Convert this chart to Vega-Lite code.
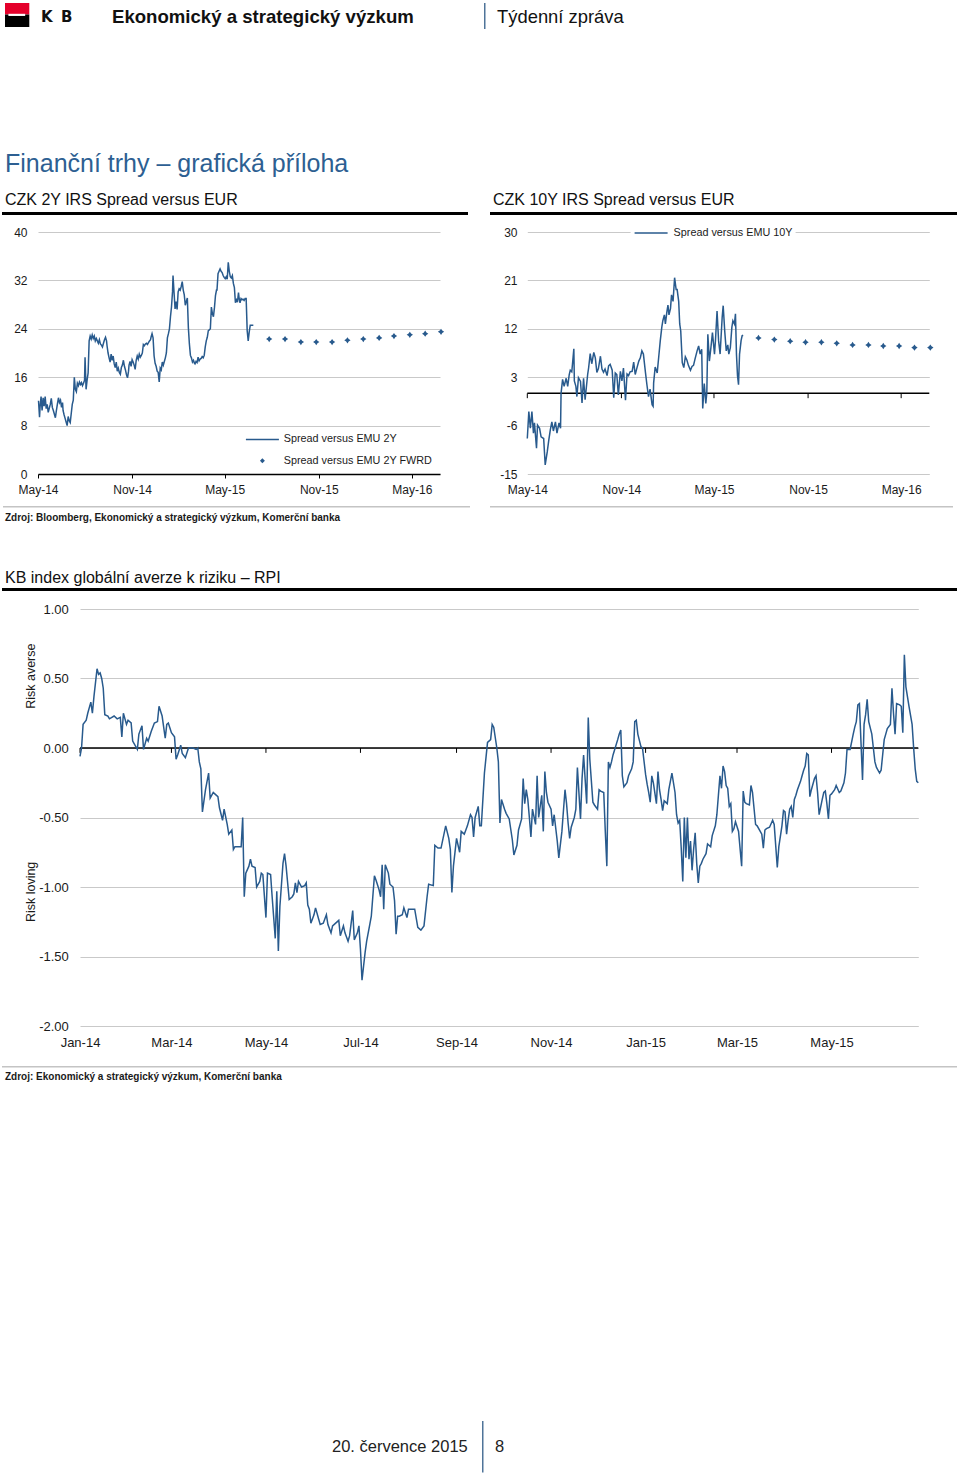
{
"$schema": "https://vega.github.io/schema/vega-lite/v6.json",
"background": "white",
"padding": 0,
"spacing": 0,
"config": {
  "font": "Liberation Sans",
  "view": {"stroke": null},
  "concat": {"spacing": 0},
  "locale": {"number": {"decimal": ".", "thousands": ",", "grouping": [3], "currency": ["$", ""], "minus": "-"}},
  "axis": {"labelColor": "#1a1a1a", "titleColor": "#1a1a1a", "gridColor": "#c9c9c9", "titleFontWeight": "normal"},
  "legend": {"labelColor": "#1a1a1a"}
},
"vconcat": [
  {"width": 1, "height": 2.5, "data": {"values": []}, "mark": "point"},
  {"spacing": 0, "hconcat": [
    {"width": 5, "height": 24, "data": {"values": []}, "mark": "point"},
    {"width": 24.3, "height": 24, "layer": [
      {"data": {"values": [{}]}, "mark": {"type": "rect", "color": "#e4002b"},
       "encoding": {"x": {"datum": 0, "type": "quantitative", "scale": {"domain": [0, 1]}, "axis": null}, "x2": {"datum": 1},
                    "y": {"datum": 0.52, "type": "quantitative", "scale": {"domain": [0, 1]}, "axis": null}, "y2": {"datum": 1}}},
      {"data": {"values": [{}]}, "mark": {"type": "rect", "color": "#000000"},
       "encoding": {"x": {"datum": 0, "type": "quantitative", "axis": null}, "x2": {"datum": 1},
                    "y": {"datum": 0, "type": "quantitative", "axis": null}, "y2": {"datum": 0.52}}},
      {"data": {"values": [{}]}, "mark": {"type": "rect", "color": "#ffffff"},
       "encoding": {"x": {"datum": 0.14, "type": "quantitative", "axis": null}, "x2": {"datum": 0.83},
                    "y": {"datum": 0.46, "type": "quantitative", "axis": null}, "y2": {"datum": 0.55}}}
    ]},
    {"width": 10.2, "height": 24, "data": {"values": []}, "mark": "point"},
    {"width": 20, "height": 27.8, "data": {"values": [{"label": "K"}]},
     "mark": {"type": "text", "align": "left", "baseline": "middle", "font": "DejaVu Sans", "fontSize": 15, "fontWeight": "bold", "color": "#111111"},
     "encoding": {"text": {"field": "label"}, "x": {"datum": 0, "type": "quantitative", "scale": {"domain": [0, 1]}, "axis": null}}},
    {"width": 50.8, "height": 27.8, "data": {"values": [{"label": "B"}]},
     "mark": {"type": "text", "align": "left", "baseline": "middle", "font": "DejaVu Sans", "fontSize": 15, "fontWeight": "bold", "color": "#111111"},
     "encoding": {"text": {"field": "label"}, "x": {"datum": 0, "type": "quantitative", "scale": {"domain": [0, 1]}, "axis": null}}},
    {"width": 372, "height": 27.8, "data": {"values": [{"label": "Ekonomický a strategický výzkum"}]},
     "mark": {"type": "text", "align": "left", "baseline": "middle", "fontSize": 18.6, "fontWeight": "bold", "color": "#111111"},
     "encoding": {"text": {"field": "label"}, "x": {"datum": 0, "type": "quantitative", "scale": {"domain": [0, 1]}, "axis": null}}},
    {"width": 1.5, "height": 26, "view": {"fill": "#4f7499", "stroke": null}, "data": {"values": []}, "mark": "point"},
    {"width": 10.5, "height": 24, "data": {"values": []}, "mark": "point"},
    {"width": 200, "height": 27.8, "data": {"values": [{"label": "Týdenní zpráva"}]},
     "mark": {"type": "text", "align": "left", "baseline": "middle", "fontSize": 18.4, "color": "#111111"},
     "encoding": {"text": {"field": "label"}, "x": {"datum": 0, "type": "quantitative", "scale": {"domain": [0, 1]}, "axis": null}}}
  ]},
  {"width": 1, "height": 118.7, "data": {"values": []}, "mark": "point"},
  {"spacing": 0, "hconcat": [
    {"width": 5, "height": 28, "data": {"values": []}, "mark": "point"},
    {"width": 600, "height": 28, "data": {"values": [{"label": "Finanční trhy – grafická příloha"}]},
     "mark": {"type": "text", "align": "left", "baseline": "middle", "fontSize": 25, "color": "#2d5f92"},
     "encoding": {"text": {"field": "label"}, "x": {"datum": 0, "type": "quantitative", "scale": {"domain": [0, 1]}, "axis": null}}}
  ]},
  {"width": 1, "height": 13, "data": {"values": []}, "mark": "point"},
  {"spacing": 0, "hconcat": [
    {"width": 5, "height": 18, "data": {"values": []}, "mark": "point"},
    {"width": 488, "height": 18, "data": {"values": [{"label": "CZK 2Y IRS Spread versus EUR"}]},
     "mark": {"type": "text", "align": "left", "baseline": "middle", "fontSize": 16, "color": "#111111"},
     "encoding": {"text": {"field": "label"}, "x": {"datum": 0, "type": "quantitative", "scale": {"domain": [0, 1]}, "axis": null}}},
    {"width": 400, "height": 18, "data": {"values": [{"label": "CZK 10Y IRS Spread versus EUR"}]},
     "mark": {"type": "text", "align": "left", "baseline": "middle", "fontSize": 16, "color": "#111111"},
     "encoding": {"text": {"field": "label"}, "x": {"datum": 0, "type": "quantitative", "scale": {"domain": [0, 1]}, "axis": null}}}
  ]},
  {"width": 1, "height": 2.5, "data": {"values": []}, "mark": "point"},
  {"spacing": 0, "hconcat": [
    {"width": 2, "height": 3, "data": {"values": []}, "mark": "point"},
    {"width": 466, "height": 3, "view": {"fill": "#000000", "stroke": null}, "data": {"values": []}, "mark": "point"},
    {"width": 22, "height": 3, "data": {"values": []}, "mark": "point"},
    {"width": 467, "height": 3, "view": {"fill": "#000000", "stroke": null}, "data": {"values": []}, "mark": "point"}
  ]},
  {"width": 1, "height": 7.4, "data": {"values": []}, "mark": "point"},
  {"spacing": 0, "hconcat": [
   {"width": 0.001, "height": 1, "data": {"values": []}, "mark": "point"},
   {"spacing": 87.3, "bounds": "flush",
   "resolve": {"scale": {"color": "independent"}, "legend": {"color": "independent"}},
   "hconcat": [
    {"width": 402, "height": 242, "layer": [
      {"data": {"values": [
{"date":"2014-122","value":12.1},{"date":"2014-124","value":9.4},{"date":"2014-125","value":11},{"date":"2014-127","value":12.8},{"date":"2014-129","value":10.5},{"date":"2014-131","value":12.6},{"date":"2014-133","value":11.2},{"date":"2014-135","value":12.8},{"date":"2014-137","value":10.8},{"date":"2014-139","value":11.5},{"date":"2014-141","value":10.2},{"date":"2014-145","value":11.5},{"date":"2014-147","value":12.5},{"date":"2014-149","value":11},{"date":"2014-151","value":10.5},{"date":"2014-155","value":9.3},{"date":"2014-157","value":10.5},{"date":"2014-159","value":11.6},{"date":"2014-161","value":12.6},{"date":"2014-163","value":11.8},{"date":"2014-165","value":12.2},{"date":"2014-167","value":11},{"date":"2014-169","value":11.8},{"date":"2014-170","value":10.5},{"date":"2014-172","value":9.8},{"date":"2014-174","value":9.2},{"date":"2014-176","value":8.6},{"date":"2014-178","value":8},{"date":"2014-180","value":9.5},{"date":"2014-182","value":8.8},{"date":"2014-184","value":8.5},{"date":"2014-186","value":10},{"date":"2014-188","value":11.5},{"date":"2014-190","value":12.2},{"date":"2014-192","value":16},{"date":"2014-194","value":14},{"date":"2014-196","value":13.6},{"date":"2014-198","value":15},{"date":"2014-200","value":14.6},{"date":"2014-202","value":15.2},{"date":"2014-204","value":14.8},{"date":"2014-206","value":15.1},{"date":"2014-208","value":14.6},{"date":"2014-210","value":15},{"date":"2014-212","value":15.5},{"date":"2014-213","value":19.3},{"date":"2014-215","value":14},{"date":"2014-217","value":15.5},{"date":"2014-219","value":16.7},{"date":"2014-221","value":22},{"date":"2014-223","value":22.8},{"date":"2014-225","value":22.3},{"date":"2014-227","value":23},{"date":"2014-229","value":22.4},{"date":"2014-231","value":22.8},{"date":"2014-233","value":22},{"date":"2014-235","value":22.4},{"date":"2014-237","value":22},{"date":"2014-239","value":21.6},{"date":"2014-241","value":22.2},{"date":"2014-243","value":21.5},{"date":"2014-245","value":21.3},{"date":"2014-247","value":21},{"date":"2014-249","value":21.6},{"date":"2014-251","value":22.2},{"date":"2014-253","value":22.6},{"date":"2014-255","value":22},{"date":"2014-256","value":21.2},{"date":"2014-258","value":20},{"date":"2014-260","value":19.2},{"date":"2014-262","value":18.5},{"date":"2014-264","value":19.8},{"date":"2014-266","value":18.8},{"date":"2014-268","value":19.5},{"date":"2014-270","value":18.2},{"date":"2014-272","value":17.6},{"date":"2014-274","value":18.5},{"date":"2014-276","value":17},{"date":"2014-278","value":17.5},{"date":"2014-280","value":16.8},{"date":"2014-282","value":16.5},{"date":"2014-284","value":17.6},{"date":"2014-286","value":18},{"date":"2014-288","value":18.8},{"date":"2014-290","value":17.8},{"date":"2014-292","value":17.2},{"date":"2014-294","value":16.4},{"date":"2014-296","value":15.9},{"date":"2014-298","value":17},{"date":"2014-299","value":18},{"date":"2014-301","value":18.6},{"date":"2014-303","value":17.8},{"date":"2014-305","value":18.9},{"date":"2014-307","value":18.5},{"date":"2014-309","value":18},{"date":"2014-311","value":17.3},{"date":"2014-313","value":18.8},{"date":"2014-315","value":19.5},{"date":"2014-317","value":19},{"date":"2014-319","value":19.8},{"date":"2014-321","value":19.3},{"date":"2014-323","value":19.6},{"date":"2014-325","value":20},{"date":"2014-327","value":21.4},{"date":"2014-329","value":21.2},{"date":"2014-331","value":21.5},{"date":"2014-333","value":21.6},{"date":"2014-335","value":21.4},{"date":"2014-337","value":21.7},{"date":"2014-339","value":22},{"date":"2014-341","value":22.2},{"date":"2014-342","value":22.6},{"date":"2014-344","value":23.2},{"date":"2014-346","value":22.5},{"date":"2014-348","value":19.5},{"date":"2014-350","value":18.3},{"date":"2014-352","value":17.8},{"date":"2014-354","value":17},{"date":"2014-356","value":16.8},{"date":"2014-358","value":15.2},{"date":"2014-360","value":17.5},{"date":"2014-362","value":17.2},{"date":"2014-364","value":18.5},
{"date":"2015-001","value":18},{"date":"2015-003","value":18.6},{"date":"2015-005","value":19.2},{"date":"2015-007","value":20},{"date":"2015-009","value":22.5},{"date":"2015-011","value":23.2},{"date":"2015-013","value":24},{"date":"2015-015","value":26},{"date":"2015-017","value":27.6},{"date":"2015-019","value":30.1},{"date":"2015-020","value":32.8},{"date":"2015-022","value":30},{"date":"2015-024","value":27.3},{"date":"2015-026","value":28.5},{"date":"2015-028","value":27.2},{"date":"2015-030","value":30.1},{"date":"2015-032","value":30.6},{"date":"2015-034","value":30.4},{"date":"2015-036","value":31},{"date":"2015-038","value":31.8},{"date":"2015-040","value":30.4},{"date":"2015-042","value":29.6},{"date":"2015-044","value":27.9},{"date":"2015-046","value":28.5},{"date":"2015-048","value":29.1},{"date":"2015-050","value":24.2},{"date":"2015-052","value":21.5},{"date":"2015-054","value":19.6},{"date":"2015-056","value":19.2},{"date":"2015-058","value":18.5},{"date":"2015-060","value":18.8},{"date":"2015-062","value":18.3},{"date":"2015-063","value":18.2},{"date":"2015-065","value":18.6},{"date":"2015-067","value":18.4},{"date":"2015-069","value":19.3},{"date":"2015-071","value":18.7},{"date":"2015-073","value":19},{"date":"2015-075","value":19.1},{"date":"2015-077","value":19.4},{"date":"2015-079","value":19.2},{"date":"2015-081","value":19.6},{"date":"2015-083","value":21},{"date":"2015-085","value":22},{"date":"2015-087","value":22.6},{"date":"2015-089","value":23.7},{"date":"2015-091","value":23.8},{"date":"2015-093","value":24},{"date":"2015-095","value":27.6},{"date":"2015-097","value":26.5},{"date":"2015-099","value":26},{"date":"2015-101","value":27.5},{"date":"2015-103","value":29.5},{"date":"2015-105","value":30.4},{"date":"2015-106","value":30.4},{"date":"2015-108","value":33.1},{"date":"2015-110","value":33.5},{"date":"2015-112","value":33.9},{"date":"2015-114","value":33.5},{"date":"2015-116","value":33.3},{"date":"2015-118","value":32.8},{"date":"2015-120","value":32.5},{"date":"2015-122","value":32.3},{"date":"2015-124","value":32.6},{"date":"2015-126","value":32.2},{"date":"2015-128","value":35},{"date":"2015-130","value":33.5},{"date":"2015-132","value":32.6},{"date":"2015-134","value":32.4},{"date":"2015-136","value":32.8},{"date":"2015-138","value":31.5},{"date":"2015-140","value":30.8},{"date":"2015-142","value":28.3},{"date":"2015-144","value":28.8},{"date":"2015-146","value":28.4},{"date":"2015-148","value":30},{"date":"2015-149","value":29.2},{"date":"2015-151","value":28.3},{"date":"2015-153","value":29},{"date":"2015-155","value":28.8},{"date":"2015-157","value":28.9},{"date":"2015-159","value":28.7},{"date":"2015-161","value":29},{"date":"2015-163","value":29},{"date":"2015-165","value":23.7},{"date":"2015-167","value":22},{"date":"2015-169","value":23.5},{"date":"2015-171","value":24.6},{"date":"2015-173","value":24.6},{"date":"2015-177","value":24.6}
       ], "format": {"parse": {"date": "date:'%Y-%j'"}}},
       "mark": {"type": "line", "strokeWidth": 1.5},
       "encoding": {
         "x": {"field": "date", "type": "temporal",
               "scale": {"domain": [{"year": 2014, "month": 5, "date": 1}, {"year": 2016, "month": 6, "date": 25}]},
               "axis": {"values": [{"year": 2014, "month": 5, "date": 1}, {"year": 2014, "month": 11, "date": 1}, {"year": 2015, "month": 5, "date": 1}, {"year": 2015, "month": 11, "date": 1}, {"year": 2016, "month": 5, "date": 1}],
                        "format": "%b-%y", "labelFlush": false, "labelOverlap": false, "grid": false, "title": null,
                        "domain": true, "domainColor": "#000000", "domainWidth": 1.5, "ticks": true, "tickColor": "#000000", "tickSize": 4, "tickWidth": 1,
                        "labelPadding": 6.9, "labelFontSize": 12, "minExtent": 0, "maxExtent": 200}},
         "y": {"field": "value", "type": "quantitative", "scale": {"domain": [0, 40], "nice": false, "zero": false},
               "axis": {"values": [0, 8, 16, 24, 32, 40], "title": null, "domain": false, "ticks": false, "grid": true,
                        "labelPadding": 11, "labelFontSize": 12, "minExtent": 36.7, "maxExtent": 36.7}},
         "color": {"datum": "Spread versus EMU 2Y", "type": "nominal",
                   "scale": {"domain": ["Spread versus EMU 2Y", "Spread versus EMU 2Y FWRD"], "range": ["#285a8d", "#285a8d"]},
                   "legend": {"orient": "bottom-right", "offset": 8, "padding": 0, "title": null, "labelFontSize": 10.8,
                              "symbolSize": 121, "symbolOffset": 11, "labelOffset": 16, "rowPadding": 9.4,
                              "encode": {"symbols": {"update": {
                                "shape": {"signal": "datum.value === 'Spread versus EMU 2Y' ? 'M-3,0H3' : 'M0,-0.45L0.45,0L0,0.45L-0.45,0Z'"},
                                "fill": {"signal": "datum.value === 'Spread versus EMU 2Y' ? 'transparent' : '#285a8d'"},
                                "stroke": {"value": "#285a8d"},
                                "strokeWidth": {"signal": "datum.value === 'Spread versus EMU 2Y' ? 1.5 : 0"},
                                "opacity": {"value": 1}}}}}}
       }},
      {"data": {"values": [
{"date":"2015-208","value":22.3},{"date":"2015-239","value":22.3},{"date":"2015-270","value":21.8},{"date":"2015-300","value":21.8},{"date":"2015-331","value":21.8},{"date":"2015-361","value":22.1},{"date":"2016-027","value":22.3},{"date":"2016-058","value":22.5},{"date":"2016-087","value":22.8},{"date":"2016-118","value":23},{"date":"2016-148","value":23.2},{"date":"2016-179","value":23.5}
       ], "format": {"parse": {"date": "date:'%Y-%j'"}}},
       "mark": {"type": "point", "filled": true, "opacity": 1, "size": 40, "shape": "M0,-1L0.4,-0.4L1,0L0.4,0.4L0,1L-0.4,0.4L-1,0L-0.4,-0.4Z"},
       "encoding": {
         "x": {"field": "date", "type": "temporal", "scale": {"domain": [{"year": 2014, "month": 5, "date": 1}, {"year": 2016, "month": 6, "date": 25}]}},
         "y": {"field": "value", "type": "quantitative", "scale": {"domain": [0, 40], "nice": false, "zero": false}},
         "color": {"datum": "Spread versus EMU 2Y FWRD", "type": "nominal"}
       }}
    ]},
    {"width": 402, "height": 242, "layer": [
      {"data": {"values": [{}]}, "mark": {"type": "rule", "color": "#000000", "strokeWidth": 1.5},
       "encoding": {"y": {"datum": 0, "type": "quantitative", "scale": {"domain": [-15, 30], "nice": false, "zero": false}}}},
      {"data": {"values": [{"date":"2014-121"},{"date":"2014-305"},{"date":"2015-121"},{"date":"2015-305"},{"date":"2016-122"}], "format": {"parse": {"date": "date:'%Y-%j'"}}},
       "mark": {"type": "rule", "color": "#000000", "strokeWidth": 1},
       "encoding": {"x": {"field": "date", "type": "temporal", "scale": {"domain": [{"year": 2014, "month": 5, "date": 1}, {"year": 2016, "month": 6, "date": 25}]}},
                    "y": {"datum": 0, "type": "quantitative"}, "y2": {"datum": -0.9}}},
      {"data": {"values": [
{"date":"2014-121","value":-8.4},{"date":"2014-124","value":-3.4},{"date":"2014-127","value":-6.5},{"date":"2014-130","value":-3.4},{"date":"2014-133","value":-7.4},{"date":"2014-135","value":-5.5},{"date":"2014-139","value":-10.2},{"date":"2014-141","value":-5.9},{"date":"2014-145","value":-6.5},{"date":"2014-148","value":-8.1},{"date":"2014-153","value":-8.4},{"date":"2014-156","value":-13.3},{"date":"2014-160","value":-10.9},{"date":"2014-163","value":-8.7},{"date":"2014-166","value":-6.8},{"date":"2014-169","value":-5.3},{"date":"2014-172","value":-7},{"date":"2014-176","value":-5.3},{"date":"2014-179","value":-7.4},{"date":"2014-183","value":-5.5},{"date":"2014-186","value":-6.5},{"date":"2014-187","value":0},{"date":"2014-190","value":2.6},{"date":"2014-193","value":1.3},{"date":"2014-197","value":2.8},{"date":"2014-200","value":1.3},{"date":"2014-203","value":3.5},{"date":"2014-205","value":4.3},{"date":"2014-208","value":4},{"date":"2014-212","value":8.3},{"date":"2014-213","value":2.3},{"date":"2014-216","value":1.3},{"date":"2014-218","value":-0.6},{"date":"2014-221","value":2.9},{"date":"2014-225","value":2.2},{"date":"2014-228","value":-1.8},{"date":"2014-231","value":2.8},{"date":"2014-234","value":-1.2},{"date":"2014-239","value":3.5},{"date":"2014-241","value":4.8},{"date":"2014-244","value":7.4},{"date":"2014-247","value":5.5},{"date":"2014-251","value":7.6},{"date":"2014-254","value":6.6},{"date":"2014-257","value":3.9},{"date":"2014-260","value":4.6},{"date":"2014-264","value":6.9},{"date":"2014-267","value":4.5},{"date":"2014-270","value":3.9},{"date":"2014-273","value":4.5},{"date":"2014-277","value":3.3},{"date":"2014-280","value":5.1},{"date":"2014-283","value":5.4},{"date":"2014-287","value":4.3},{"date":"2014-290","value":-0.8},{"date":"2014-293","value":3.8},{"date":"2014-296","value":3.5},{"date":"2014-299","value":-0.3},{"date":"2014-303","value":4.1},{"date":"2014-306","value":2.3},{"date":"2014-309","value":4.7},{"date":"2014-313","value":-1.3},{"date":"2014-316","value":3.6},{"date":"2014-319","value":3.3},{"date":"2014-322","value":4},{"date":"2014-326","value":4.1},{"date":"2014-329","value":5.8},{"date":"2014-332","value":3.5},{"date":"2014-335","value":4.6},{"date":"2014-339","value":6},{"date":"2014-342","value":6.6},{"date":"2014-345","value":7.9},{"date":"2014-348","value":7.3},{"date":"2014-352","value":3.9},{"date":"2014-355","value":1.5},{"date":"2014-358","value":-0.6},{"date":"2014-361","value":0.8},{"date":"2014-365","value":-2.1},
{"date":"2015-002","value":-2.4},{"date":"2015-003","value":1.9},{"date":"2015-006","value":4.9},{"date":"2015-010","value":3.8},{"date":"2015-013","value":6.8},{"date":"2015-016","value":9.8},{"date":"2015-019","value":12.3},{"date":"2015-021","value":13.5},{"date":"2015-024","value":14.6},{"date":"2015-026","value":12.9},{"date":"2015-029","value":15.2},{"date":"2015-031","value":16.4},{"date":"2015-033","value":14.6},{"date":"2015-036","value":15.8},{"date":"2015-038","value":18.3},{"date":"2015-041","value":17.1},{"date":"2015-044","value":21.5},{"date":"2015-047","value":19.3},{"date":"2015-049","value":19.3},{"date":"2015-052","value":17.1},{"date":"2015-054","value":12.9},{"date":"2015-056","value":11.6},{"date":"2015-059","value":5.7},{"date":"2015-062","value":4.8},{"date":"2015-065","value":6.8},{"date":"2015-068","value":6.2},{"date":"2015-071","value":5.2},{"date":"2015-075","value":4.3},{"date":"2015-078","value":5},{"date":"2015-081","value":5.2},{"date":"2015-084","value":6.4},{"date":"2015-088","value":7.9},{"date":"2015-091","value":8.8},{"date":"2015-094","value":7.3},{"date":"2015-097","value":8.2},{"date":"2015-099","value":-2.8},{"date":"2015-102","value":1.8},{"date":"2015-105","value":-1.9},{"date":"2015-107","value":0.1},{"date":"2015-109","value":11},{"date":"2015-112","value":6},{"date":"2015-115","value":8.5},{"date":"2015-118","value":11.3},{"date":"2015-122","value":7.3},{"date":"2015-124","value":10},{"date":"2015-127","value":15.3},{"date":"2015-130","value":9.8},{"date":"2015-133","value":7.3},{"date":"2015-137","value":14.1},{"date":"2015-139","value":16.3},{"date":"2015-142","value":11.6},{"date":"2015-145","value":7.9},{"date":"2015-148","value":9},{"date":"2015-150","value":7.3},{"date":"2015-153","value":8.5},{"date":"2015-156","value":12.3},{"date":"2015-158","value":13.5},{"date":"2015-161","value":12.9},{"date":"2015-163","value":14.8},{"date":"2015-165","value":7.2},{"date":"2015-167","value":3.3},{"date":"2015-169","value":1.6},{"date":"2015-171","value":7.3},{"date":"2015-174","value":9.8},{"date":"2015-176","value":10.7},{"date":"2015-178","value":10.8}
       ], "format": {"parse": {"date": "date:'%Y-%j'"}}},
       "mark": {"type": "line", "strokeWidth": 1.5},
       "encoding": {
         "x": {"field": "date", "type": "temporal",
               "scale": {"domain": [{"year": 2014, "month": 5, "date": 1}, {"year": 2016, "month": 6, "date": 25}]},
               "axis": {"values": [{"year": 2014, "month": 5, "date": 1}, {"year": 2014, "month": 11, "date": 1}, {"year": 2015, "month": 5, "date": 1}, {"year": 2015, "month": 11, "date": 1}, {"year": 2016, "month": 5, "date": 1}],
                        "format": "%b-%y", "labelFlush": false, "labelOverlap": false, "grid": false, "title": null,
                        "domain": false, "ticks": false, "labelPadding": 10.9, "labelFontSize": 12, "minExtent": 0, "maxExtent": 200}},
         "y": {"field": "value", "type": "quantitative", "scale": {"domain": [-15, 30], "nice": false, "zero": false},
               "axis": {"values": [-15, -6, 3, 12, 21, 30], "title": null, "domain": false, "ticks": false, "grid": true,
                        "labelPadding": 10.3, "labelFontSize": 12}},
         "color": {"datum": "Spread versus EMU 10Y", "type": "nominal",
                   "scale": {"domain": ["Spread versus EMU 10Y"], "range": ["#285a8d"]},
                   "legend": {"orient": "none", "legendX": 103.3, "legendY": -8.5, "direction": "horizontal", "padding": 3,
                              "fillColor": "white", "title": null, "labelFontSize": 10.8,
                              "symbolSize": 121, "symbolOffset": 11, "labelOffset": 16,
                              "encode": {"symbols": {"update": {
                                "shape": {"value": "M-3,0H3"}, "fill": {"value": "transparent"},
                                "stroke": {"value": "#285a8d"}, "strokeWidth": {"value": 1.5}, "opacity": {"value": 1}}}}}}
       }},
      {"data": {"values": [
{"date":"2015-208","value":10.3},{"date":"2015-239","value":10},{"date":"2015-270","value":9.7},{"date":"2015-300","value":9.5},{"date":"2015-331","value":9.5},{"date":"2015-361","value":9.3},{"date":"2016-027","value":9},{"date":"2016-058","value":9},{"date":"2016-087","value":8.8},{"date":"2016-118","value":8.8},{"date":"2016-148","value":8.5},{"date":"2016-179","value":8.5}
       ], "format": {"parse": {"date": "date:'%Y-%j'"}}},
       "mark": {"type": "point", "filled": true, "opacity": 1, "size": 40, "color": "#285a8d", "shape": "M0,-1L0.4,-0.4L1,0L0.4,0.4L0,1L-0.4,0.4L-1,0L-0.4,-0.4Z"},
       "encoding": {
         "x": {"field": "date", "type": "temporal", "scale": {"domain": [{"year": 2014, "month": 5, "date": 1}, {"year": 2016, "month": 6, "date": 25}]}},
         "y": {"field": "value", "type": "quantitative", "scale": {"domain": [-15, 30], "nice": false, "zero": false}}
       }}
    ]}
  ]}
  ]},
  {"width": 1, "height": 9.2, "data": {"values": []}, "mark": "point"},
  {"spacing": 0, "hconcat": [
    {"width": 3, "height": 1.5, "data": {"values": []}, "mark": "point"},
    {"width": 467, "height": 1.5, "view": {"fill": "#c4c4c4", "stroke": null}, "data": {"values": []}, "mark": "point"},
    {"width": 20, "height": 1.5, "data": {"values": []}, "mark": "point"},
    {"width": 463, "height": 1.5, "view": {"fill": "#c4c4c4", "stroke": null}, "data": {"values": []}, "mark": "point"}
  ]},
  {"width": 1, "height": 4.2, "data": {"values": []}, "mark": "point"},
  {"spacing": 0, "hconcat": [
    {"width": 5, "height": 10, "data": {"values": []}, "mark": "point"},
    {"width": 600, "height": 10, "data": {"values": [{"label": "Zdroj: Bloomberg, Ekonomický a strategický výzkum, Komerční banka"}]},
     "mark": {"type": "text", "align": "left", "baseline": "middle", "fontSize": 10, "fontWeight": "bold", "color": "#1a1a1a"},
     "encoding": {"text": {"field": "label"}, "x": {"datum": 0, "type": "quantitative", "scale": {"domain": [0, 1]}, "axis": null}}}
  ]},
  {"width": 1, "height": 45.5, "data": {"values": []}, "mark": "point"},
  {"spacing": 0, "hconcat": [
    {"width": 5, "height": 18, "data": {"values": []}, "mark": "point"},
    {"width": 600, "height": 18, "data": {"values": [{"label": "KB index globální averze k riziku – RPI"}]},
     "mark": {"type": "text", "align": "left", "baseline": "middle", "fontSize": 16, "color": "#111111"},
     "encoding": {"text": {"field": "label"}, "x": {"datum": 0, "type": "quantitative", "scale": {"domain": [0, 1]}, "axis": null}}}
  ]},
  {"width": 1, "height": 1, "data": {"values": []}, "mark": "point"},
  {"spacing": 0, "hconcat": [
    {"width": 2, "height": 3, "data": {"values": []}, "mark": "point"},
    {"width": 955, "height": 3, "view": {"fill": "#000000", "stroke": null}, "data": {"values": []}, "mark": "point"}
  ]},
  {"width": 1, "height": 11.8, "data": {"values": []}, "mark": "point"},
  {"spacing": 0, "hconcat": [
  {"width": 0.001, "height": 1, "data": {"values": []}, "mark": "point"},
  {"width": 838.3, "height": 417,
   "resolve": {"scale": {"y": "independent"}},
   "layer": [
    {"data": {"values": [{}]}, "mark": {"type": "rule", "color": "#000000", "strokeWidth": 1.5},
     "encoding": {"y": {"datum": 0, "type": "quantitative", "scale": {"domain": [-2, 1], "nice": false, "zero": false},
       "axis": {"orient": "left", "title": "Risk loving", "labels": false, "ticks": false, "domain": false, "grid": false,
                "titleX": -50, "titleY": 282.4, "titleAngle": -90, "titleAlign": "center", "titleBaseline": "middle",
                "titleFontSize": 12.5, "minExtent": 79, "maxExtent": 79}}}},
    {"data": {"values": [{"date":"2014-001"},{"date":"2014-060"},{"date":"2014-121"},{"date":"2014-182"},{"date":"2014-244"},{"date":"2014-305"},{"date":"2015-001"},{"date":"2015-060"},{"date":"2015-121"}], "format": {"parse": {"date": "date:'%Y-%j'"}}},
     "mark": {"type": "rule", "color": "#000000", "strokeWidth": 1},
     "encoding": {"x": {"field": "date", "type": "temporal", "scale": {"domain": [{"year": 2014, "month": 1, "date": 1}, {"year": 2015, "month": 6, "date": 26}]}},
                  "y": {"datum": 0, "type": "quantitative", "scale": {"domain": [-2, 1], "nice": false, "zero": false}, "axis": null},
                  "y2": {"datum": -0.035}}},
    {"data": {"values": [
{"date":"2014-001","value":-0.06},{"date":"2014-002","value":0},{"date":"2014-003","value":0.17},{"date":"2014-005","value":0.2},{"date":"2014-006","value":0.25},{"date":"2014-008","value":0.33},{"date":"2014-009","value":0.25},{"date":"2014-010","value":0.37},{"date":"2014-012","value":0.57},{"date":"2014-013","value":0.53},{"date":"2014-014","value":0.54},{"date":"2014-015","value":0.5},{"date":"2014-016","value":0.43},{"date":"2014-017","value":0.24},{"date":"2014-019","value":0.23},{"date":"2014-020","value":0.21},{"date":"2014-023","value":0.23},{"date":"2014-025","value":0.21},{"date":"2014-027","value":0.22},{"date":"2014-028","value":0.08},{"date":"2014-029","value":0.25},{"date":"2014-031","value":0.17},{"date":"2014-032","value":0.2},{"date":"2014-034","value":0.18},{"date":"2014-035","value":0.05},{"date":"2014-038","value":-0.01},{"date":"2014-039","value":0.1},{"date":"2014-041","value":0.16},{"date":"2014-042","value":-0.01},{"date":"2014-044","value":0.07},{"date":"2014-045","value":0.05},{"date":"2014-047","value":0.12},{"date":"2014-049","value":0.18},{"date":"2014-051","value":0.19},{"date":"2014-052","value":0.3},{"date":"2014-054","value":0.23},{"date":"2014-056","value":0.07},{"date":"2014-057","value":0.17},{"date":"2014-058","value":0.18},{"date":"2014-060","value":0.11},{"date":"2014-062","value":0.08},{"date":"2014-063","value":-0.08},{"date":"2014-064","value":-0.05},{"date":"2014-066","value":0.02},{"date":"2014-067","value":-0.04},{"date":"2014-069","value":-0.07},{"date":"2014-071","value":0},{"date":"2014-074","value":0},{"date":"2014-076","value":-0.01},{"date":"2014-077","value":0},{"date":"2014-078","value":-0.1},{"date":"2014-079","value":-0.15},{"date":"2014-080","value":-0.46},{"date":"2014-082","value":-0.3},{"date":"2014-084","value":-0.18},{"date":"2014-085","value":-0.36},{"date":"2014-087","value":-0.32},{"date":"2014-088","value":-0.33},{"date":"2014-090","value":-0.35},{"date":"2014-091","value":-0.43},{"date":"2014-093","value":-0.52},{"date":"2014-094","value":-0.44},{"date":"2014-096","value":-0.55},{"date":"2014-097","value":-0.62},{"date":"2014-099","value":-0.59},{"date":"2014-100","value":-0.73},{"date":"2014-101","value":-0.71},{"date":"2014-103","value":-0.71},{"date":"2014-105","value":-0.71},{"date":"2014-106","value":-0.5},{"date":"2014-107","value":-1.07},{"date":"2014-108","value":-0.9},{"date":"2014-110","value":-0.85},{"date":"2014-111","value":-0.8},{"date":"2014-112","value":-0.85},{"date":"2014-114","value":-0.86},{"date":"2014-115","value":-1},{"date":"2014-117","value":-0.96},{"date":"2014-118","value":-0.9},{"date":"2014-119","value":-0.91},{"date":"2014-121","value":-1.22},{"date":"2014-122","value":-0.9},{"date":"2014-124","value":-0.91},{"date":"2014-125","value":-1.07},{"date":"2014-127","value":-1.37},{"date":"2014-128","value":-1.03},{"date":"2014-129","value":-1.46},{"date":"2014-130","value":-1.14},{"date":"2014-132","value":-0.83},{"date":"2014-133","value":-0.76},{"date":"2014-134","value":-0.85},{"date":"2014-136","value":-1.09},{"date":"2014-138","value":-1.07},{"date":"2014-139","value":-1.05},{"date":"2014-140","value":-0.97},{"date":"2014-141","value":-1.04},{"date":"2014-142","value":-0.96},{"date":"2014-144","value":-1},{"date":"2014-146","value":-0.99},{"date":"2014-147","value":-0.97},{"date":"2014-148","value":-1.13},{"date":"2014-149","value":-1.16},{"date":"2014-150","value":-1.26},{"date":"2014-152","value":-1.2},{"date":"2014-153","value":-1.15},{"date":"2014-155","value":-1.23},{"date":"2014-156","value":-1.27},{"date":"2014-158","value":-1.26},{"date":"2014-160","value":-1.2},{"date":"2014-161","value":-1.27},{"date":"2014-163","value":-1.33},{"date":"2014-164","value":-1.28},{"date":"2014-166","value":-1.26},{"date":"2014-168","value":-1.24},{"date":"2014-169","value":-1.35},{"date":"2014-171","value":-1.28},{"date":"2014-172","value":-1.33},{"date":"2014-174","value":-1.39},{"date":"2014-175","value":-1.35},{"date":"2014-177","value":-1.17},{"date":"2014-178","value":-1.38},{"date":"2014-180","value":-1.33},{"date":"2014-181","value":-1.28},{"date":"2014-182","value":-1.45},{"date":"2014-183","value":-1.67},{"date":"2014-184","value":-1.57},{"date":"2014-185","value":-1.47},{"date":"2014-186","value":-1.39},{"date":"2014-188","value":-1.27},{"date":"2014-189","value":-1.21},{"date":"2014-191","value":-0.92},{"date":"2014-192","value":-0.95},{"date":"2014-194","value":-1.02},{"date":"2014-195","value":-1.07},{"date":"2014-196","value":-0.84},{"date":"2014-197","value":-1.16},{"date":"2014-198","value":-0.84},{"date":"2014-200","value":-0.9},{"date":"2014-201","value":-0.98},{"date":"2014-203","value":-1},{"date":"2014-204","value":-1.1},{"date":"2014-205","value":-1.34},{"date":"2014-206","value":-1.21},{"date":"2014-207","value":-1.21},{"date":"2014-209","value":-1.2},{"date":"2014-210","value":-1.15},{"date":"2014-212","value":-1.22},{"date":"2014-213","value":-1.16},{"date":"2014-215","value":-1.16},{"date":"2014-217","value":-1.16},{"date":"2014-219","value":-1.29},{"date":"2014-221","value":-1.31},{"date":"2014-223","value":-1.28},{"date":"2014-225","value":-1.07},{"date":"2014-226","value":-0.98},{"date":"2014-229","value":-0.99},{"date":"2014-230","value":-0.7},{"date":"2014-232","value":-0.72},{"date":"2014-234","value":-0.72},{"date":"2014-237","value":-0.56},{"date":"2014-239","value":-0.65},{"date":"2014-240","value":-0.73},{"date":"2014-241","value":-1.04},{"date":"2014-242","value":-0.85},{"date":"2014-244","value":-0.65},{"date":"2014-246","value":-0.75},{"date":"2014-247","value":-0.6},{"date":"2014-249","value":-0.62},{"date":"2014-251","value":-0.56},{"date":"2014-253","value":-0.48},{"date":"2014-254","value":-0.5},{"date":"2014-255","value":-0.64},{"date":"2014-256","value":-0.5},{"date":"2014-258","value":-0.42},{"date":"2014-259","value":-0.56},{"date":"2014-260","value":-0.56},{"date":"2014-262","value":-0.18},{"date":"2014-264","value":0.04},{"date":"2014-266","value":0.06},{"date":"2014-267","value":0.17},{"date":"2014-268","value":0.15},{"date":"2014-270","value":0},{"date":"2014-271","value":-0.1},{"date":"2014-272","value":-0.54},{"date":"2014-273","value":-0.37},{"date":"2014-275","value":-0.44},{"date":"2014-276","value":-0.47},{"date":"2014-278","value":-0.51},{"date":"2014-280","value":-0.66},{"date":"2014-281","value":-0.77},{"date":"2014-283","value":-0.7},{"date":"2014-284","value":-0.59},{"date":"2014-286","value":-0.51},{"date":"2014-287","value":-0.22},{"date":"2014-288","value":-0.4},{"date":"2014-289","value":-0.3},{"date":"2014-290","value":-0.37},{"date":"2014-291","value":-0.5},{"date":"2014-292","value":-0.64},{"date":"2014-293","value":-0.44},{"date":"2014-295","value":-0.55},{"date":"2014-296","value":-0.2},{"date":"2014-297","value":-0.5},{"date":"2014-299","value":-0.34},{"date":"2014-300","value":-0.6},{"date":"2014-301","value":-0.17},{"date":"2014-302","value":-0.32},{"date":"2014-303","value":-0.39},{"date":"2014-305","value":-0.44},{"date":"2014-306","value":-0.56},{"date":"2014-307","value":-0.48},{"date":"2014-309","value":-0.67},{"date":"2014-310","value":-0.79},{"date":"2014-312","value":-0.6},{"date":"2014-313","value":-0.45},{"date":"2014-314","value":-0.3},{"date":"2014-315","value":-0.4},{"date":"2014-316","value":-0.54},{"date":"2014-317","value":-0.65},{"date":"2014-318","value":-0.57},{"date":"2014-320","value":-0.5},{"date":"2014-321","value":-0.44},{"date":"2014-322","value":-0.14},{"date":"2014-324","value":-0.51},{"date":"2014-325","value":-0.22},{"date":"2014-326","value":-0.05},{"date":"2014-328","value":-0.4},{"date":"2014-329","value":0.22},{"date":"2014-330","value":-0.08},{"date":"2014-332","value":-0.39},{"date":"2014-333","value":-0.41},{"date":"2014-335","value":-0.44},{"date":"2014-336","value":-0.3},{"date":"2014-337","value":-0.31},{"date":"2014-339","value":-0.32},{"date":"2014-340","value":-0.6},{"date":"2014-341","value":-0.85},{"date":"2014-342","value":-0.1},{"date":"2014-343","value":-0.14},{"date":"2014-344","value":-0.1},{"date":"2014-345","value":-0.05},{"date":"2014-348","value":0.06},{"date":"2014-349","value":0.1},{"date":"2014-350","value":0.13},{"date":"2014-351","value":-0.2},{"date":"2014-352","value":-0.28},{"date":"2014-354","value":-0.25},{"date":"2014-355","value":-0.2},{"date":"2014-357","value":-0.15},{"date":"2014-358","value":-0.1},{"date":"2014-359","value":0.19},{"date":"2014-360","value":0.2},{"date":"2014-361","value":0.1},{"date":"2014-363","value":0.01},{"date":"2014-364","value":0},
{"date":"2015-001","value":-0.19},{"date":"2015-002","value":-0.26},{"date":"2015-003","value":-0.32},{"date":"2015-004","value":-0.39},{"date":"2015-005","value":-0.2},{"date":"2015-006","value":-0.25},{"date":"2015-008","value":-0.4},{"date":"2015-009","value":-0.17},{"date":"2015-010","value":-0.3},{"date":"2015-011","value":-0.37},{"date":"2015-012","value":-0.45},{"date":"2015-013","value":-0.38},{"date":"2015-015","value":-0.4},{"date":"2015-016","value":-0.3},{"date":"2015-018","value":-0.18},{"date":"2015-020","value":-0.32},{"date":"2015-021","value":-0.48},{"date":"2015-022","value":-0.54},{"date":"2015-023","value":-0.52},{"date":"2015-024","value":-0.72},{"date":"2015-025","value":-0.96},{"date":"2015-026","value":-0.5},{"date":"2015-027","value":-0.79},{"date":"2015-028","value":-0.5},{"date":"2015-029","value":-0.8},{"date":"2015-030","value":-0.67},{"date":"2015-031","value":-0.88},{"date":"2015-032","value":-0.73},{"date":"2015-033","value":-0.61},{"date":"2015-034","value":-0.83},{"date":"2015-035","value":-0.97},{"date":"2015-036","value":-0.85},{"date":"2015-037","value":-0.83},{"date":"2015-038","value":-0.8},{"date":"2015-040","value":-0.76},{"date":"2015-041","value":-0.69},{"date":"2015-043","value":-0.71},{"date":"2015-044","value":-0.63},{"date":"2015-046","value":-0.56},{"date":"2015-047","value":-0.48},{"date":"2015-048","value":-0.34},{"date":"2015-049","value":-0.2},{"date":"2015-050","value":-0.29},{"date":"2015-051","value":-0.13},{"date":"2015-052","value":-0.17},{"date":"2015-053","value":-0.27},{"date":"2015-054","value":-0.29},{"date":"2015-055","value":-0.42},{"date":"2015-056","value":-0.4},{"date":"2015-057","value":-0.6},{"date":"2015-058","value":-0.58},{"date":"2015-059","value":-0.53},{"date":"2015-061","value":-0.6},{"date":"2015-063","value":-0.85},{"date":"2015-064","value":-0.31},{"date":"2015-065","value":-0.39},{"date":"2015-066","value":-0.4},{"date":"2015-068","value":-0.41},{"date":"2015-069","value":-0.27},{"date":"2015-070","value":-0.32},{"date":"2015-072","value":-0.55},{"date":"2015-073","value":-0.56},{"date":"2015-075","value":-0.6},{"date":"2015-076","value":-0.62},{"date":"2015-077","value":-0.72},{"date":"2015-078","value":-0.59},{"date":"2015-079","value":-0.58},{"date":"2015-081","value":-0.57},{"date":"2015-083","value":-0.52},{"date":"2015-084","value":-0.55},{"date":"2015-086","value":-0.86},{"date":"2015-087","value":-0.71},{"date":"2015-089","value":-0.56},{"date":"2015-090","value":-0.45},{"date":"2015-091","value":-0.46},{"date":"2015-092","value":-0.62},{"date":"2015-093","value":-0.52},{"date":"2015-094","value":-0.44},{"date":"2015-095","value":-0.42},{"date":"2015-096","value":-0.5},{"date":"2015-097","value":-0.37},{"date":"2015-098","value":-0.34},{"date":"2015-099","value":-0.3},{"date":"2015-101","value":-0.24},{"date":"2015-102","value":-0.2},{"date":"2015-103","value":-0.16},{"date":"2015-104","value":-0.13},{"date":"2015-105","value":-0.04},{"date":"2015-106","value":-0.05},{"date":"2015-107","value":-0.35},{"date":"2015-108","value":-0.3},{"date":"2015-110","value":-0.22},{"date":"2015-111","value":-0.2},{"date":"2015-112","value":-0.32},{"date":"2015-113","value":-0.48},{"date":"2015-115","value":-0.37},{"date":"2015-116","value":-0.32},{"date":"2015-117","value":-0.31},{"date":"2015-118","value":-0.4},{"date":"2015-119","value":-0.51},{"date":"2015-120","value":-0.34},{"date":"2015-121","value":-0.33},{"date":"2015-123","value":-0.3},{"date":"2015-124","value":-0.27},{"date":"2015-126","value":-0.32},{"date":"2015-127","value":-0.31},{"date":"2015-129","value":-0.25},{"date":"2015-130","value":-0.18},{"date":"2015-131","value":-0.01},{"date":"2015-133","value":-0.01},{"date":"2015-135","value":0.1},{"date":"2015-136","value":0.15},{"date":"2015-137","value":0.19},{"date":"2015-138","value":0.31},{"date":"2015-139","value":0.32},{"date":"2015-141","value":-0.23},{"date":"2015-142","value":0.17},{"date":"2015-143","value":0.24},{"date":"2015-144","value":0.35},{"date":"2015-145","value":0.19},{"date":"2015-147","value":0.1},{"date":"2015-148","value":0},{"date":"2015-149","value":-0.1},{"date":"2015-150","value":-0.14},{"date":"2015-152","value":-0.18},{"date":"2015-153","value":-0.16},{"date":"2015-155","value":0.06},{"date":"2015-156","value":0.1},{"date":"2015-157","value":0.14},{"date":"2015-159","value":0.17},{"date":"2015-160","value":0.43},{"date":"2015-161","value":0.25},{"date":"2015-162","value":0.1},{"date":"2015-163","value":0.32},{"date":"2015-165","value":0.31},{"date":"2015-166","value":0.3},{"date":"2015-167","value":0.11},{"date":"2015-168","value":0.67},{"date":"2015-169","value":0.44},{"date":"2015-171","value":0.3},{"date":"2015-173","value":0.17},{"date":"2015-174","value":0},{"date":"2015-175","value":-0.15},{"date":"2015-176","value":-0.24},{"date":"2015-177","value":-0.25}
     ], "format": {"parse": {"date": "date:'%Y-%j'"}}},
     "mark": {"type": "line", "color": "#285a8d", "strokeWidth": 1.5},
     "encoding": {
       "x": {"field": "date", "type": "temporal",
             "scale": {"domain": [{"year": 2014, "month": 1, "date": 1}, {"year": 2015, "month": 6, "date": 26}]},
             "axis": {"values": [{"year": 2014, "month": 1, "date": 1}, {"year": 2014, "month": 3, "date": 1}, {"year": 2014, "month": 5, "date": 1}, {"year": 2014, "month": 7, "date": 1}, {"year": 2014, "month": 9, "date": 1}, {"year": 2014, "month": 11, "date": 1}, {"year": 2015, "month": 1, "date": 1}, {"year": 2015, "month": 3, "date": 1}, {"year": 2015, "month": 5, "date": 1}],
                      "format": "%b-%y", "labelFlush": false, "labelOverlap": false, "grid": false, "title": null,
                      "domain": false, "ticks": false, "labelPadding": 10.3, "labelFontSize": 13, "minExtent": 0, "maxExtent": 200}},
       "y": {"field": "value", "type": "quantitative", "scale": {"domain": [-2, 1], "nice": false, "zero": false},
             "axis": {"orient": "left", "values": [-2, -1.5, -1, -0.5, 0, 0.5, 1], "format": ".2f", "title": "Risk averse",
                      "titleX": -50, "titleY": 66.7, "titleAngle": -90, "titleAlign": "center", "titleBaseline": "middle", "titleFontSize": 12.5,
                      "domain": false, "ticks": false, "grid": true, "labelPadding": 11.7, "labelFontSize": 13, "minExtent": 79, "maxExtent": 79}}
     }}
   ]}
  ]},
  {"width": 1, "height": 15.4, "data": {"values": []}, "mark": "point"},
  {"spacing": 0, "hconcat": [
    {"width": 2, "height": 1.5, "data": {"values": []}, "mark": "point"},
    {"width": 955, "height": 1.5, "view": {"fill": "#c4c4c4", "stroke": null}, "data": {"values": []}, "mark": "point"}
  ]},
  {"width": 1, "height": 4, "data": {"values": []}, "mark": "point"},
  {"spacing": 0, "hconcat": [
    {"width": 5, "height": 10, "data": {"values": []}, "mark": "point"},
    {"width": 600, "height": 10, "data": {"values": [{"label": "Zdroj: Ekonomický a strategický výzkum, Komerční banka"}]},
     "mark": {"type": "text", "align": "left", "baseline": "middle", "fontSize": 10, "fontWeight": "bold", "color": "#1a1a1a"},
     "encoding": {"text": {"field": "label"}, "x": {"datum": 0, "type": "quantitative", "scale": {"domain": [0, 1]}, "axis": null}}}
  ]},
  {"width": 1, "height": 339, "data": {"values": []}, "mark": "point"},
  {"spacing": 0, "hconcat": [
    {"width": 331.7, "height": 51.6, "data": {"values": []}, "mark": "point"},
    {"width": 150, "height": 51.6, "data": {"values": [{"label": "20. července 2015"}]},
     "mark": {"type": "text", "align": "left", "baseline": "middle", "fontSize": 16.5, "color": "#222222"},
     "encoding": {"text": {"field": "label"}, "x": {"datum": 0, "type": "quantitative", "scale": {"domain": [0, 1]}, "axis": null}}},
    {"width": 1.5, "height": 51.6, "view": {"fill": "#4f7499", "stroke": null}, "data": {"values": []}, "mark": "point"},
    {"width": 10.3, "height": 51.6, "data": {"values": []}, "mark": "point"},
    {"width": 20, "height": 51.6, "data": {"values": [{"label": "8"}]},
     "mark": {"type": "text", "align": "left", "baseline": "middle", "fontSize": 16.5, "color": "#222222"},
     "encoding": {"text": {"field": "label"}, "x": {"datum": 0, "type": "quantitative", "scale": {"domain": [0, 1]}, "axis": null}}}
  ]}
]
}
